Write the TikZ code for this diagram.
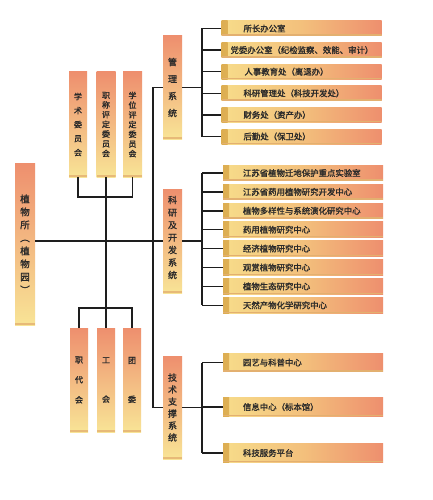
\documentclass[tikz,border=0pt]{standalone}
\usepackage{fontspec}
\newfontfamily\cjk[AutoFakeBold=1.5]{Noto Sans CJK SC}
\usetikzlibrary{calc}
\definecolor{sal}{HTML}{EE8F6E}
\definecolor{yel}{HTML}{F8E496}
\definecolor{hyel}{HTML}{F7DC8A}
\definecolor{hmid}{HTML}{F3C07C}
\definecolor{bev}{HTML}{DDAE52}
\definecolor{bot}{HTML}{E3B070}
\definecolor{txt}{HTML}{2A2A2A}
\definecolor{ink}{HTML}{1E1E1E}
\begin{document}
\begin{tikzpicture}[x=1pt,y=-1pt,
  vbox/.style={top color=sal, bottom color=yel, inner sep=0pt, align=center, text=txt,
    path picture={\fill[bot!80!yel] ([yshift=2pt]path picture bounding box.south west) rectangle (path picture bounding box.south east);}},
  vt/.style 2 args={font={\cjk\bfseries\fontsize{#1}{#2}\selectfont}},
  hbox/.style={left color=hyel, right color=sal, middle color=hmid, minimum width=160pt, minimum height=#1, inner sep=0pt,
    path picture={\shade[left color=bev, right color=hyel] (path picture bounding box.north west) rectangle ([xshift=6pt]path picture bounding box.south west);
      \fill[bot] (path picture bounding box.south west) rectangle ([yshift=1.5pt]path picture bounding box.south east);}},
  htext/.style={font={\cjk\bfseries\fontsize{8.4}{10}\selectfont}, text=txt, anchor=west, inner sep=0pt},
  ln/.style={line width=1.4pt, draw=ink},
  mainln/.style={line width=2.2pt, draw=ink}]
\useasboundingbox (0,0) rectangle (433,500);
\fill[white] (0,0) rectangle (433,500);

% vertical boxes
\node[vbox, minimum width=20pt, minimum height=162pt, vt={9.5}{13}] (zhi) at (25,244) {植\\物\\所\\︵\\植\\物\\园\\︶};
\node[vbox, minimum width=18pt, minimum height=105pt, vt={8}{14}] (xs) at (78,124.5) {学\\术\\委\\员\\会};
\node[vbox, minimum width=19pt, minimum height=105pt, vt={8}{9.7}] (zc) at (106,124.5) {职\\称\\评\\定\\委\\员\\会};
\node[vbox, minimum width=19pt, minimum height=105pt, vt={8}{9.7}] (xw) at (132.5,124.5) {学\\位\\评\\定\\委\\员\\会};
\node[vbox, minimum width=18pt, minimum height=104pt, vt={8}{20}] (zd) at (79,380) {职\\代\\会};
\node[vbox, minimum width=18pt, minimum height=104pt, vt={8}{39}] (gh) at (106,380) {工\\会};
\node[vbox, minimum width=18pt, minimum height=104pt, vt={8}{39}] (tw) at (132,380) {团\\委};
\node[vbox, minimum width=19pt, minimum height=103pt, vt={9}{17}] (gl) at (172.5,87.5) {管\\理\\系\\统};
\node[vbox, minimum width=19pt, minimum height=104pt, vt={9}{12.5}] (ky) at (172.5,241) {\\[-12pt]科\\研\\及\\开\\发\\系\\统};
\node[vbox, minimum width=19pt, minimum height=103pt, vt={9}{12}] (js) at (172.5,407.5) {技\\术\\支\\撑\\系\\统};

% management boxes
\foreach \i/\y in {1/28.5,2/50.1,3/71.7,4/93.3,5/114.9,6/136.5}
  \node[hbox=15pt] (m\i) at (301.5,\y) {};
\node[htext] (tm1) at ([xshift=22pt]m1.west) {所长办公室};
\node[htext] (tm2) at ([xshift=9pt]m2.west) {党委办公室（纪检监察、效能、审计）};
\node[htext] (tm3) at ([xshift=23pt]m3.west) {人事教育处（离退办）};
\node[htext] (tm4) at ([xshift=22pt]m4.west) {科研管理处（科技开发处）};
\node[htext] (tm5) at ([xshift=22pt]m5.west) {财务处（资产办）};
\node[htext] (tm6) at ([xshift=22pt]m6.west) {后勤处（保卫处）};

% research boxes
\foreach \i/\y in {1/173,2/191.9,3/210.8,4/229.7,5/248.6,6/267.5,7/286.4,8/305.3}
  \node[hbox=15.5pt] (k\i) at (303,\y) {};
\node[htext] (tk1) at ([xshift=20pt]k1.west) {江苏省植物迁地保护重点实验室};
\node[htext] (tk2) at ([xshift=20pt]k2.west) {江苏省药用植物研究开发中心};
\node[htext] (tk3) at ([xshift=20pt]k3.west) {植物多样性与系统演化研究中心};
\node[htext] (tk4) at ([xshift=20pt]k4.west) {药用植物研究中心};
\node[htext] (tk5) at ([xshift=20pt]k5.west) {经济植物研究中心};
\node[htext] (tk6) at ([xshift=20pt]k6.west) {观赏植物研究中心};
\node[htext] (tk7) at ([xshift=20pt]k7.west) {植物生态研究中心};
\node[htext] (tk8) at ([xshift=20pt]k8.west) {天然产物化学研究中心};

% support boxes
\foreach \i/\y in {1/362.5,2/407,3/453}
  \node[hbox=18.5pt] (s\i) at (303,\y) {};
\node[htext] (ts1) at ([xshift=20pt]s1.west) {园艺与科普中心};
\node[htext] (ts2) at ([xshift=20pt]s2.west) {信息中心（标本馆）};
\node[htext] (ts3) at ([xshift=20pt]s3.west) {科技服务平台};

% helper coordinates
\coordinate (tr) at (153,0);
\coordinate (br) at (202,0);
\coordinate (cy) at (0,197);
\coordinate (dy) at (0,308);

% trunk
\draw[ln] (gl.west) -- (gl.west -| tr) -- (js.west -| tr) -- (js.west);
\draw[mainln] (zhi.east |- ky.west) -- (ky.west);

% committees
\draw[ln] (xs.south) -- (xs.south |- cy) -- (xw.south |- cy) -- (xw.south);
\draw[ln] (zc.south) -- (gh.north);
\draw[ln] (zd.north) -- (zd.north |- dy) -- (tw.north |- dy) -- (tw.north);

% brackets
\draw[ln] (gl.east) -- (gl.east -| br);
\draw[ln] (m1.west -| br) -- (m6.west -| br);
\foreach \i in {1,...,6} \draw[ln] (m\i.west -| br) -- (m\i.west);
\draw[ln] (ky.east) -- (ky.east -| br);
\draw[ln] (k1.west -| br) -- (k8.west -| br);
\foreach \i in {1,...,8} \draw[ln] (k\i.west -| br) -- (k\i.west);
\draw[ln] (js.east) -- (js.east -| br);
\draw[ln] (s1.west -| br) -- (s3.west -| br);
\foreach \i in {1,...,3} \draw[ln] (s\i.west -| br) -- (s\i.west);
\end{tikzpicture}
\end{document}
